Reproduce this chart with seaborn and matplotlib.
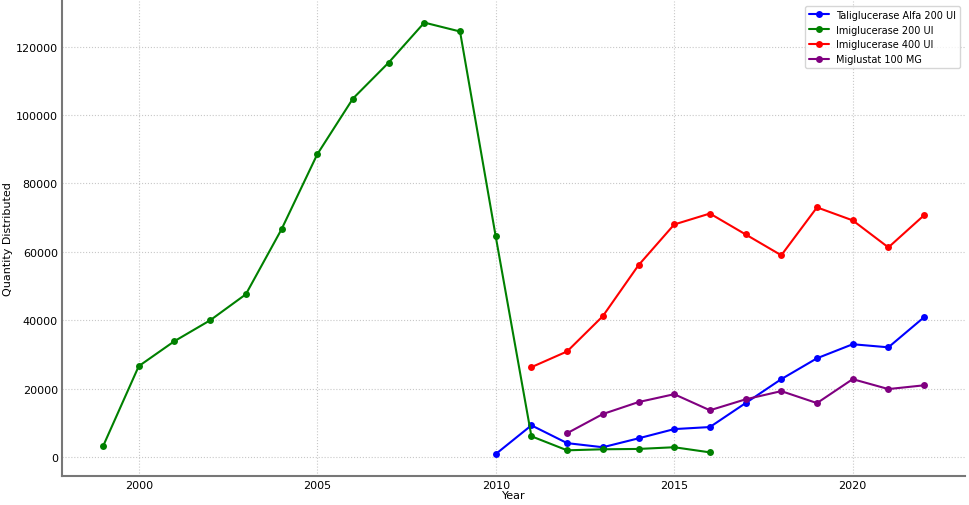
import pandas as pd
import matplotlib.pyplot as plt
import seaborn as sns

# Datos
years_tali = list(range(2010, 2023))
tali_200 = [900, 9300, 4100, 2900, 5500, 8200, 8800, 15800, 22800, 28900, 33000, 32100, 40900]

years_imi200 = list(range(1999, 2017))
imi_200 = [3200, 26600, 33900, 40000, 47600, 66600, 88500, 104800, 115300, 127000,
           124400, 64500, 6100, 2000, 2300, 2400, 2900, 1400]

years_imi400 = list(range(2011, 2023))
imi_400 = [26300, 30900, 41200, 56100, 68000, 71200, 65100, 59000, 73000, 69200, 61300, 70700]

years_migl = list(range(2012, 2023))
migl_100 = [7000, 12600, 16100, 18400, 13700, 16900, 19300, 15800, 22800, 19900, 21000]

names = ["Taliglucerase Alfa 200 UI", "Imiglucerase 200 UI", "Imiglucerase 400 UI", "Miglustat 100 MG"]
colors = ["blue", "green", "red", "purple"]

# Tabla larga para seaborn
frames = []
for name, yrs, vals in zip(names, [years_tali, years_imi200, years_imi400, years_migl],
                           [tali_200, imi_200, imi_400, migl_100]):
    frames.append(pd.DataFrame({"Year": yrs, "Quantity": vals, "Drug": name}))
df = pd.concat(frames, ignore_index=True)

sns.set_style("white")
plt.rcParams["font.family"] = ["DejaVu Sans"]
plt.rcParams["text.color"] = "black"
plt.rcParams["axes.labelcolor"] = "black"

fig = plt.figure(figsize=(9.69, 5.06), dpi=100)
ax = fig.add_axes([0.064, 0.058, 0.932, 0.938])

sns.lineplot(data=df, x="Year", y="Quantity", hue="Drug", hue_order=names,
             palette=dict(zip(names, colors)), marker="o", markersize=5,
             markeredgewidth=0, linewidth=1.5, ax=ax)

ax.grid(True, linestyle=":", color="#c8c8c8", linewidth=0.8)
for side in ["top", "right"]:
    ax.spines[side].set_visible(False)
for side in ["left", "bottom"]:
    ax.spines[side].set_color("#777777")
    ax.spines[side].set_linewidth(1.5)
ax.tick_params(length=0, labelsize=8, pad=3, labelcolor="black")
ax.set_xticks([2000, 2005, 2010, 2015, 2020])
ax.set_xlabel("Year", fontsize=8, labelpad=0)
ax.set_ylabel("Quantity Distributed", fontsize=8, labelpad=2)
ax.legend(title=None, fontsize=7, loc="upper right", frameon=True)

plt.savefig("out.png", dpi=100)
